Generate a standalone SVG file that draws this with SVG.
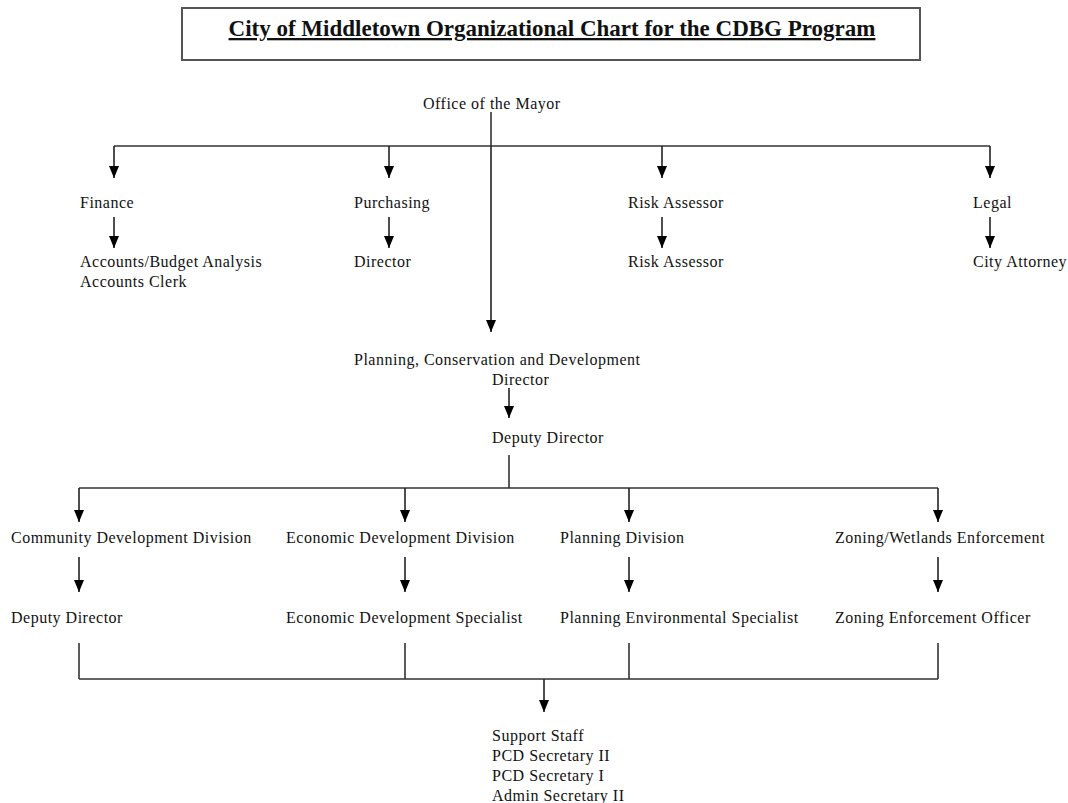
<svg xmlns="http://www.w3.org/2000/svg" width="1068" height="803" viewBox="0 0 1068 803">
<defs>
<marker id="ah" markerWidth="12" markerHeight="10" refX="12" refY="5" orient="auto" markerUnits="userSpaceOnUse" viewBox="0 0 12 10">
<path d="M0,0 L12,5 L0,10 Z" fill="#000"/>
</marker>
<style>
text{font-family:"Liberation Serif","Times New Roman",serif;font-size:16px;letter-spacing:0.5px;fill:#111;}
.title{font-size:23px;font-weight:bold;letter-spacing:0;text-decoration:underline;}
.ln{stroke:#333;stroke-width:1.6;fill:none;}
.ar{stroke:#222;stroke-width:1.6;fill:none;}
</style>
</defs>
<rect width="1068" height="803" fill="#fff"/>
<g id="title">
<rect x="182" y="8" width="738" height="52" fill="#fff" stroke="#555" stroke-width="2"/>
<text class="title" x="552" y="36" text-anchor="middle">City of Middletown Organizational Chart for the CDBG Program</text>
</g>
<g id="connectors">
<path class="ln" d="M491,112 V146 M114,146 H990"/>
<path class="ar" d="M114,146 V178" marker-end="url(#ah)"/>
<path class="ar" d="M389,146 V178" marker-end="url(#ah)"/>
<path class="ar" d="M662,146 V178" marker-end="url(#ah)"/>
<path class="ar" d="M990,146 V178" marker-end="url(#ah)"/>
<path class="ar" d="M114,217 V248" marker-end="url(#ah)"/>
<path class="ar" d="M389,217 V248" marker-end="url(#ah)"/>
<path class="ar" d="M662,217 V248" marker-end="url(#ah)"/>
<path class="ar" d="M990,217 V248" marker-end="url(#ah)"/>
<path class="ar" d="M491,146 V332" marker-end="url(#ah)"/>
<path class="ar" d="M509,388 V418" marker-end="url(#ah)"/>
<path class="ln" d="M509,455 V488 M79,488 H938"/>
<path class="ar" d="M79,488 V522" marker-end="url(#ah)"/>
<path class="ar" d="M405,488 V522" marker-end="url(#ah)"/>
<path class="ar" d="M629,488 V522" marker-end="url(#ah)"/>
<path class="ar" d="M938,488 V522" marker-end="url(#ah)"/>
<path class="ar" d="M79,557 V592" marker-end="url(#ah)"/>
<path class="ar" d="M405,557 V592" marker-end="url(#ah)"/>
<path class="ar" d="M629,557 V592" marker-end="url(#ah)"/>
<path class="ar" d="M938,557 V592" marker-end="url(#ah)"/>
<path class="ln" d="M79,643 V679 M405,643 V679 M629,643 V679 M938,643 V679 M79,679 H938"/>
<path class="ar" d="M544,679 V712" marker-end="url(#ah)"/>
</g>
<g id="mayor"><text x="423" y="109">Office of the Mayor</text></g>
<g id="finance"><text x="80" y="208">Finance</text></g>
<g id="purchasing"><text x="354" y="208">Purchasing</text></g>
<g id="risk"><text x="628" y="208">Risk Assessor</text></g>
<g id="legal"><text x="973" y="208">Legal</text></g>
<g id="accounts"><text x="80" y="267">Accounts/Budget Analysis</text><text x="80" y="287">Accounts Clerk</text></g>
<g id="purch-director"><text x="354" y="267">Director</text></g>
<g id="risk-assessor"><text x="628" y="267">Risk Assessor</text></g>
<g id="city-attorney"><text x="973" y="267">City Attorney</text></g>
<g id="pcd"><text x="354" y="365">Planning, Conservation and Development</text><text x="492" y="385">Director</text></g>
<g id="deputy"><text x="492" y="443">Deputy Director</text></g>
<g id="cdd"><text x="11" y="543">Community Development Division</text></g>
<g id="edd"><text x="286" y="543">Economic Development Division</text></g>
<g id="pd"><text x="560" y="543">Planning Division</text></g>
<g id="zwe"><text x="835" y="543">Zoning/Wetlands Enforcement</text></g>
<g id="cdd-deputy"><text x="11" y="623">Deputy Director</text></g>
<g id="eds"><text x="286" y="623">Economic Development Specialist</text></g>
<g id="pes"><text x="560" y="623">Planning Environmental Specialist</text></g>
<g id="zeo"><text x="835" y="623">Zoning Enforcement Officer</text></g>
<g id="support"><text x="492" y="741">Support Staff</text><text x="492" y="761">PCD Secretary II</text><text x="492" y="781">PCD Secretary I</text><text x="492" y="801">Admin Secretary II</text></g>
</svg>
